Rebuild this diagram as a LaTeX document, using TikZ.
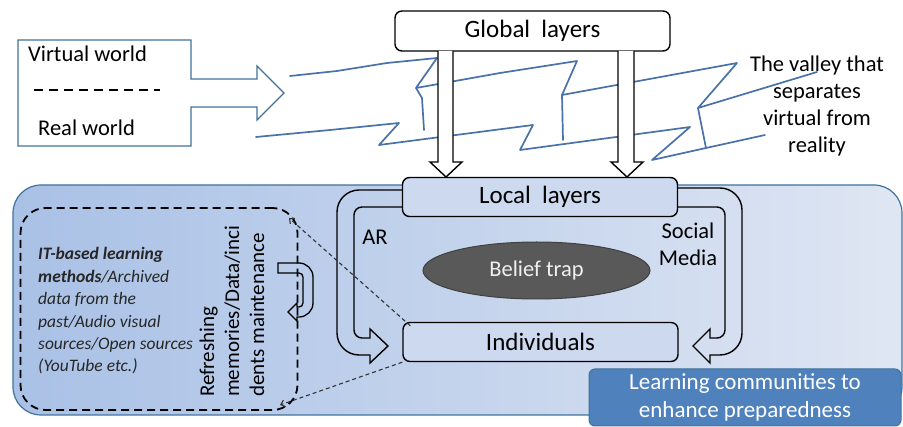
\documentclass[tikz,border=0pt]{standalone}
\usepackage{fontspec}
\setmainfont{Carlito}
\usetikzlibrary{arrows.meta,shapes.geometric,calc}
\definecolor{panelline}{HTML}{41719C}
\definecolor{panelleft}{HTML}{A9C1E6}
\definecolor{panelright}{HTML}{DFE6F3}
\definecolor{layerfill}{HTML}{CCD9EF}
\definecolor{wigblue}{HTML}{4A72A8}
\definecolor{learnfill}{HTML}{4F81BD}
\definecolor{trapfill}{HTML}{595959}
\definecolor{ittext}{HTML}{262626}
\begin{document}
\begin{tikzpicture}[x=1pt,y=-1pt,
  lbl/.style={font=\fontsize{22.5}{27}\selectfont, text=black, inner sep=0pt},
  layerbox/.style={draw=black, line width=1.4pt, rounded corners=7pt, fill=layerfill,
    minimum width=275pt, minimum height=39pt, inner sep=0pt, font=\fontsize{25}{30}\selectfont},
  blockarrow/.style={draw=black, line width=1.4pt, line join=miter},
  wig/.style={draw=wigblue, line width=1.7pt, line join=round, line cap=round},
  memconn/.style={draw=black!80, line width=1.1pt, dash pattern=on 4pt off 3pt,
    -{Straight Barb[length=4pt,width=7pt]}}
]
\path[use as bounding box] (0,0) rectangle (903,427);

% shaded panel of the local side
\draw[rounded corners=28pt, left color=panelleft, right color=panelright,
      draw=panelline, line width=1.2pt] (13,185) rectangle (902,415);

% learning communities label
\node[draw=panelline, line width=1pt, fill=learnfill, rounded corners=6pt,
      minimum width=312pt, minimum height=57pt, inner sep=0pt, align=center,
      text=white, font=\fontsize{23}{28}\selectfont]
      (learn) at (745,397.5) {Learning communities to\\enhance preparedness};

% dashed memory region
\node[draw=black, line width=1.8pt, dash pattern=on 8pt off 5pt, rounded corners=25pt,
      minimum width=277pt, minimum height=202pt, inner sep=0pt] (mem) at (159,309) {};
\node[anchor=west, align=left, inner sep=0pt, text=ittext,
      font=\fontsize{17.5}{22.4}\selectfont\itshape] (ittxt) at (38,311)
  {\textbf{IT-based learning}\\\textbf{methods}/Archived\\data from the\\past/Audio visual\\sources/Open sources\\(YouTube etc.)};
\node[rotate=90, anchor=west, align=left, inner sep=0pt,
      font=\fontsize{21}{25}\selectfont] (refresh) at (232,397)
  {Refreshing\\memories/Data/inci\\dents maintenance};

% small u-turn arrow inside the memory region
\draw[blockarrow, line width=1.3pt] (278,263) -- (299,263) .. controls (306.7,263) and (313,269.3) .. (313,277)
  -- (313,303) .. controls (313,310.7) and (306.7,317) .. (299,317)
  -- (297,317) -- (297,321) -- (288,312) -- (297,303) -- (297,307)
  -- (299,307) .. controls (301.2,307) and (303,305.2) .. (303,303)
  -- (303,277) .. controls (303,274.8) and (301.2,273) .. (299,273)
  -- (278,273) -- cycle;

% layers
\node[layerbox] (local) at (540,197) {Local~~layers};
\node[layerbox] (indiv) at (540.5,342) {Individuals};
\node[ellipse, draw=black!75, line width=1pt, fill=trapfill, minimum width=227pt,
      minimum height=57pt, inner sep=0pt, text=white!94!black,
      font=\fontsize{22.5}{27}\selectfont] (trap) at (536.5,270.5) {Belief trap};
\node[lbl] (ar) at (375,237) {AR};
\node[lbl, align=center] (social) at (688,244) {Social\\Media};

% AR loop, left
\draw[blockarrow] (local.west |- 0,190) -- (359,190) .. controls (346.9,190) and (337,199.9) .. (337,212)
  -- (337,333) .. controls (337,345.1) and (346.9,355) .. (359,355)
  -- (370,355) -- (370,363) -- (388,346) -- (370,329) -- (370,338)
  -- (362,338) .. controls (357.6,338) and (354,334.4) .. (354,330)
  -- (354,215) .. controls (354,210.6) and (357.6,207) .. (362,207)
  -- (local.west |- 0,207);
% social media loop, right
\draw[blockarrow] (local.east |- 0,188) -- (720,188) .. controls (732.1,188) and (742,197.9) .. (742,210)
  -- (742,333) .. controls (742,345.1) and (732.1,355) .. (720,355)
  -- (710,355) -- (710,363) -- (693,346) -- (710,329) -- (710,338)
  -- (717,338) .. controls (721.4,338) and (725,334.4) .. (725,330)
  -- (725,215) .. controls (725,210.6) and (721.4,207) .. (717,207)
  -- (local.east |- 0,207);

% links between individuals and the memory region
\coordinate (memtr) at (289,218);
\coordinate (membr) at (280,405);
\draw[memconn] ($(indiv.north west)+(8,4)$) -- (memtr);
\draw[memconn] (indiv.south west) -- (membr);

% virtual / real world sign
\draw[draw=panelline, line width=1.4pt, fill=white, line join=miter]
  (18,40) -- (191,40) -- (191,79) -- (257,79) -- (257,66) -- (284,93)
  -- (257,120) -- (257,107) -- (191,107) -- (191,146) -- (18,146) -- cycle;
\node[lbl, anchor=west] (virt) at (28,54) {Virtual world};
\node[lbl, anchor=west] (real) at (38,128) {Real world};
\draw[line width=1.6pt, dash pattern=on 9pt off 6pt] (34,90) -- (160,90);

% the valley
\draw[wig] (290,76) -- (337,71) -- (387,63) -- (437,58) -- (416,88) -- (500,73) -- (577,61)
  -- (562,95) -- (737,63) -- (698,108) -- (817,72);
\draw[wig] (416,88) -- (422,98) -- (424,130);
\draw[wig] (562,95) -- (563,140);
\draw[wig] (698,108) -- (706,148);
\draw[wig] (256,137) -- (330,130) -- (399,123) -- (379,145) -- (533,125) -- (520,150)
  -- (690,127) -- (652,160) -- (706,148) -- (765,135);

% global layers and the two descending arrows
\node[layerbox, fill=white, minimum height=40pt] (global) at (532.5,31) {Global~~layers};
\draw[blockarrow, fill=white] (438,51) -- (438,162) -- (430,162) -- (446,177) -- (462,162)
  -- (453,162) -- (453,51);
\draw[blockarrow, fill=white] (618,51) -- (618,162) -- (611,162) -- (627,177) -- (643,162)
  -- (634,162) -- (634,51);

\node[lbl, align=center, font=\fontsize{22.5}{27.3}\selectfont] (valley) at (817,106)
  {The valley that\\separates\\virtual from\\reality};
\end{tikzpicture}
\end{document}
